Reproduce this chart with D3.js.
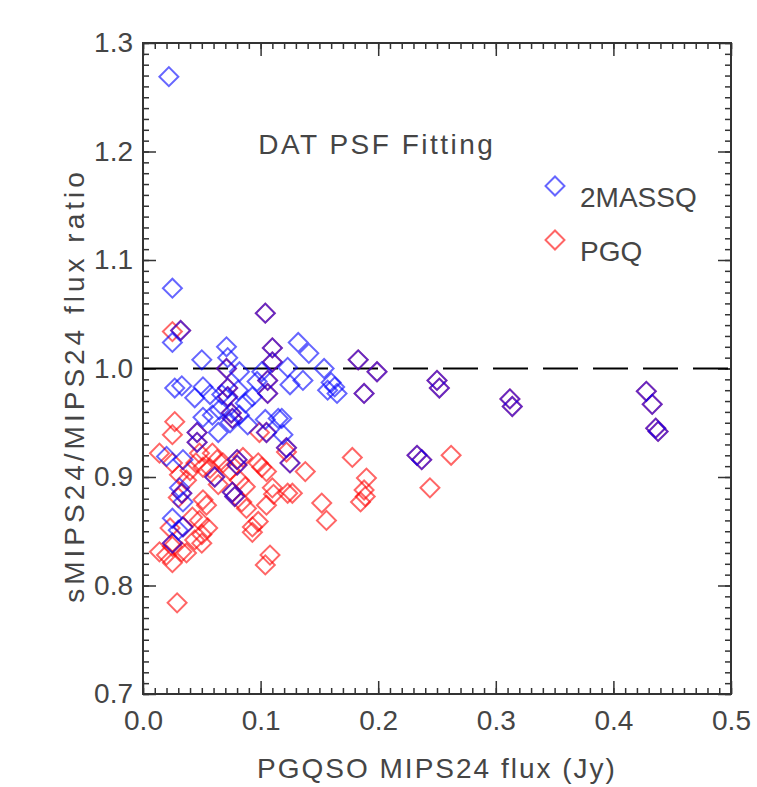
<!DOCTYPE html>
<html>
<head>
<meta charset="utf-8">
<script src="https://cdn.jsdelivr.net/npm/d3@7"></script>
<style>
  body { margin: 0; background: #fff; }
  text { font-family: "Liberation Sans", Arial, sans-serif; fill: #454545; }
</style>
</head>
<body>
<div id="chart"></div>
<script>
// [PGQSO MIPS24 flux (Jy), sMIPS24/MIPS24 ratio]
// quasars only in the 2MASS sample
const twomassOnly = [
  [0.022, 1.269], [0.025, 1.074], [0.025, 1.024], [0.027, 0.982], [0.033, 0.984],
  [0.044, 0.973], [0.051, 0.983], [0.050, 1.008], [0.071, 1.020], [0.072, 1.010],
  [0.081, 0.980], [0.087, 0.968], [0.093, 0.974], [0.097, 0.988], [0.051, 0.955],
  [0.059, 0.957], [0.065, 0.962], [0.074, 0.950], [0.115, 0.954], [0.132, 1.024],
  [0.141, 1.014], [0.123, 1.001], [0.154, 1.000], [0.136, 0.989], [0.125, 0.985],
  [0.160, 0.987], [0.157, 0.980], [0.165, 0.977], [0.163, 0.983], [0.118, 0.954],
  [0.119, 0.939], [0.020, 0.919], [0.034, 0.916], [0.031, 0.890], [0.034, 0.877],
  [0.025, 0.862], [0.030, 0.851], [0.082, 0.957], [0.089, 0.948], [0.067, 0.976],
  [0.057, 0.976], [0.082, 0.997], [0.101, 0.997], [0.064, 0.941], [0.104, 0.953]
];

// quasars only in the PG sample
const pgqOnly = [
  [0.025, 1.034], [0.027, 0.951], [0.025, 0.939], [0.099, 0.941], [0.014, 0.922],
  [0.025, 0.913], [0.048, 0.922], [0.059, 0.922], [0.063, 0.916], [0.051, 0.909],
  [0.057, 0.908], [0.068, 0.913], [0.085, 0.918], [0.098, 0.913], [0.101, 0.909],
  [0.105, 0.905], [0.123, 0.885], [0.087, 0.891], [0.084, 0.877], [0.088, 0.871],
  [0.110, 0.890], [0.105, 0.874], [0.030, 0.881], [0.051, 0.879], [0.054, 0.874],
  [0.042, 0.863], [0.048, 0.860], [0.055, 0.853], [0.050, 0.847], [0.044, 0.842],
  [0.050, 0.839], [0.023, 0.853], [0.093, 0.854], [0.098, 0.859], [0.093, 0.849],
  [0.014, 0.831], [0.025, 0.836], [0.020, 0.828], [0.025, 0.821], [0.037, 0.830],
  [0.108, 0.828], [0.104, 0.819], [0.029, 0.784], [0.122, 0.923], [0.138, 0.905],
  [0.178, 0.918], [0.190, 0.899], [0.188, 0.888], [0.189, 0.882], [0.185, 0.877],
  [0.152, 0.876], [0.156, 0.860], [0.244, 0.890], [0.262, 0.920], [0.127, 0.885],
  [0.031, 0.902], [0.037, 0.897], [0.040, 0.906], [0.045, 0.913], [0.074, 0.906],
  [0.064, 0.893], [0.033, 0.831], [0.082, 0.897], [0.111, 0.884]
];

// quasars in both samples (drawn in both colours, they overlap as purple)
const bothSamples = [
  [0.032, 1.035], [0.071, 1.000], [0.072, 0.982], [0.072, 0.974], [0.104, 1.051],
  [0.110, 1.019], [0.110, 1.006], [0.106, 0.989], [0.106, 0.977], [0.046, 0.941],
  [0.046, 0.932], [0.105, 0.941], [0.061, 0.900], [0.080, 0.916], [0.080, 0.911],
  [0.076, 0.886], [0.078, 0.882], [0.033, 0.885], [0.034, 0.854], [0.025, 0.839],
  [0.122, 0.927], [0.125, 0.913], [0.183, 1.008], [0.199, 0.997], [0.188, 0.977],
  [0.250, 0.989], [0.252, 0.982], [0.312, 0.972], [0.314, 0.965], [0.428, 0.979],
  [0.433, 0.967], [0.436, 0.945], [0.438, 0.942], [0.233, 0.920], [0.237, 0.916],
  [0.076, 0.954], [0.075, 0.959]
];

const seriesNames = ['2MASSQ', 'PGQ'];
const xTicks = [0.0, 0.1, 0.2, 0.3, 0.4, 0.5];
const yTicks = [0.7, 0.8, 0.9, 1.0, 1.1, 1.2, 1.3];
const referenceRatio = 1.0;

const width = 757, height = 787;
const margin = { top: 43, right: 26, bottom: 93, left: 143 };
const plotW = width - margin.left - margin.right;
const plotH = height - margin.top - margin.bottom;

const colors = { '2MASSQ': 'rgb(0,0,255)', 'PGQ': 'rgb(255,0,0)' };

const svg = d3.select('#chart').append('svg')
  .attr('width', width)
  .attr('height', height);

const g = svg.append('g')
  .attr('transform', `translate(${margin.left},${margin.top})`);

const x = d3.scaleLinear().domain([0, 0.5]).range([0, plotW]);
const y = d3.scaleLinear().domain([0.7, 1.3]).range([plotH, 0]);

const xMinor = d3.range(0, 51).map(i => i / 100);
const yMinor = d3.range(70, 131).map(i => i / 100);

// axes on all four sides, ticks pointing inward
function styleAxis(sel) {
  sel.select('.domain').remove();
  sel.selectAll('line').attr('stroke', '#333').attr('stroke-width', 1.5);
  sel.selectAll('text').style('font-size', '28px').attr('fill', '#454545');
}

const axes = [
  { gen: d3.axisBottom(x), pos: `translate(0,${plotH})`, minor: xMinor, major: xTicks, labels: true },
  { gen: d3.axisTop(x), pos: 'translate(0,0)', minor: xMinor, major: xTicks, labels: false },
  { gen: d3.axisLeft(y), pos: 'translate(0,0)', minor: yMinor, major: yTicks, labels: true },
  { gen: d3.axisRight(y), pos: `translate(${plotW},0)`, minor: yMinor, major: yTicks, labels: false }
];

axes.forEach(a => {
  g.append('g')
    .attr('transform', a.pos)
    .call(a.gen.tickValues(a.minor).tickSizeInner(-6).tickSizeOuter(0).tickFormat(''))
    .call(styleAxis);
  const isX = a.major === xTicks;
  g.append('g')
    .attr('transform', a.pos)
    .call(a.gen.tickValues(a.major).tickSizeInner(-13).tickSizeOuter(0)
      .tickPadding(isX ? 16 : 10)
      .tickFormat(a.labels ? d3.format('.1f') : ''))
    .call(styleAxis);
});

// frame
g.append('rect')
  .attr('width', plotW)
  .attr('height', plotH)
  .attr('fill', 'none')
  .attr('stroke', '#333')
  .attr('stroke-width', 2);

// dashed reference line at ratio = 1
g.append('line')
  .attr('x1', x(0)).attr('x2', x(0.5))
  .attr('y1', y(referenceRatio)).attr('y2', y(referenceRatio))
  .attr('stroke', '#000')
  .attr('stroke-width', 2)
  .attr('stroke-dasharray', '35,15');

const diamond = d3.symbol().type(d3.symbolSquare).size(180);

function drawSeries(data, name) {
  g.append('g').selectAll('path')
    .data(data)
    .join('path')
    .attr('d', diamond)
    .attr('transform', d => `translate(${x(d[0])},${y(d[1])}) rotate(45)`)
    .attr('fill', 'none')
    .attr('stroke', colors[name])
    .attr('stroke-opacity', 0.6)
    .attr('stroke-width', 2);
}

drawSeries(pgqOnly.concat(bothSamples), 'PGQ');
drawSeries(twomassOnly.concat(bothSamples), '2MASSQ');

// title inside the plot
g.append('text')
  .attr('x', x(0.098))
  .attr('y', y(1.198))
  .style('font-size', '28px')
  .attr('letter-spacing', 2.5)
  .text('DAT PSF Fitting');

// legend
const legend = svg.append('g').attr('transform', 'translate(555,186)');
seriesNames.forEach((name, i) => {
  const row = legend.append('g').attr('transform', `translate(0,${i * 54})`);
  row.append('path')
    .attr('d', diamond)
    .attr('transform', 'rotate(45)')
    .attr('fill', 'none')
    .attr('stroke', colors[name])
    .attr('stroke-opacity', 0.6)
    .attr('stroke-width', 2);
  row.append('text')
    .attr('x', 25)
    .attr('y', 21)
    .style('font-size', '28px')
    .text(name);
});

// axis titles
svg.append('text')
  .attr('x', margin.left + plotW / 2)
  .attr('y', 778)
  .attr('text-anchor', 'middle')
  .style('font-size', '28px')
  .attr('letter-spacing', 2)
  .text('PGQSO MIPS24 flux (Jy)');

svg.append('text')
  .attr('transform', `translate(84,${margin.top + plotH / 2 + 17}) rotate(-90)`)
  .attr('text-anchor', 'middle')
  .style('font-size', '28px')
  .attr('letter-spacing', 4)
  .text('sMIPS24/MIPS24 flux ratio');
</script>
</body>
</html>
